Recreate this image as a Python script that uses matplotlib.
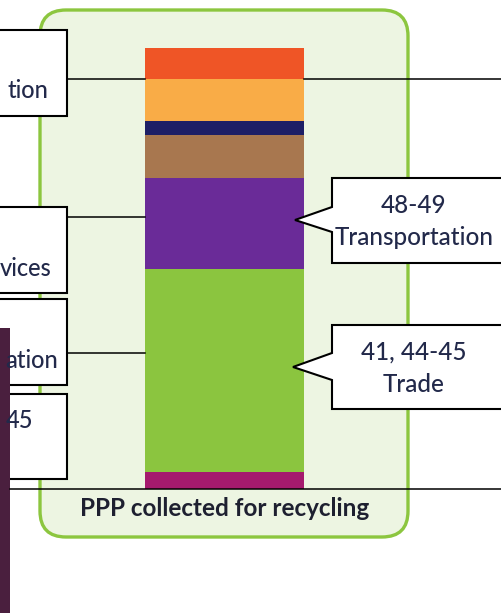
import matplotlib
matplotlib.use("Agg")
import matplotlib.pyplot as plt
from matplotlib.patches import FancyBboxPatch, Polygon, Rectangle
import numpy as np

# ---- data (share of PPP collected for recycling, top to bottom) ----
segments = ["seg1", "seg2", "seg3", "seg4", "48-49 Transportation", "41, 44-45 Trade", "seg7"]
shares = [7.0, 9.5, 3.2, 9.8, 20.6, 46.0, 3.9]
colors = ["#EF5526", "#F9AC47", "#1E1F66", "#A8774F", "#6A2B98", "#8BC53F", "#A51A6E"]
title = "PPP collected for recycling"
right_labels = ["48-49\nTransportation", "41, 44-45\nTrade"]
left_labels = ["tion", "vices", "ation", "45"]

W, H = 501, 613
fig = plt.figure(figsize=(W / 100, H / 100), dpi=100)
fig.patch.set_facecolor("white")

FONT = ["Lato", "DejaVu Sans"]
TXT = "#22294A"

# background axes in pixel coordinates
bg = fig.add_axes([0, 0, 1, 1], zorder=0)
bg.set_xlim(0, W); bg.set_ylim(H, 0); bg.axis("off")
box = FancyBboxPatch((40, 10), 368, 527, boxstyle="round,pad=0,rounding_size=26",
                     facecolor="#EDF5E2", edgecolor="#8CC63F", linewidth=2.4)
bg.add_patch(box)

# stacked bar
bx0, bx1, by0, by1 = 145, 304, 48, 489
bar_ax = fig.add_axes([bx0 / W, 1 - by1 / H, (bx1 - bx0) / W, (by1 - by0) / H], zorder=1)
cum = np.concatenate([[0], np.cumsum(shares)[:-1]])
bar_ax.bar([0], shares, bottom=cum, width=1.0, color=colors, linewidth=0)
bar_ax.set_xlim(-0.5, 0.5)
bar_ax.set_ylim(sum(shares), 0)
bar_ax.axis("off")

# overlay axes for callouts
ov = fig.add_axes([0, 0, 1, 1], zorder=2)
ov.set_xlim(0, W); ov.set_ylim(H, 0); ov.axis("off")
ov.patch.set_alpha(0)

lw_box = 1.5
lw_line = 1.1

# left boxes (cut off at the figure edge)
left_boxes = [(30, 116), (207, 293), (299, 385), (394, 479)]
for (t, b) in left_boxes:
    ov.add_patch(Rectangle((-20, t), 87, b - t, facecolor="white", edgecolor="black", linewidth=lw_box))

# dark strip on the left
ov.add_patch(Rectangle((0, 328), 10, 300, facecolor="#4A1F3E", edgecolor="none"))

# connector lines
ov.plot([67, bx0], [79, 79], color="black", lw=lw_line)
ov.plot([bx1, W + 5], [79, 79], color="black", lw=lw_line)
ov.plot([67, bx0], [217, 217], color="black", lw=lw_line)
ov.plot([67, bx0], [353, 353], color="black", lw=lw_line)
ov.plot([10, W + 5], [489, 489], color="black", lw=lw_line)

# left texts
left_pos = [(48, 90), (52, 268), (58, 361), (33, 421)]
for s, (x, y) in zip(left_labels, left_pos):
    ov.text(x, y, s, ha="right", va="center", fontsize=17, color=TXT, family=FONT,
            fontweight="medium")

# right callouts with pointer
right_boxes = [(178, 263, 207, 232, (295, 220)), (325, 409, 353, 380, (293, 367))]
for lab, (t, b, p0, p1, tip) in zip(right_labels, right_boxes):
    verts = [(W + 10, t), (332, t), (332, p0), tip, (332, p1), (332, b), (W + 10, b)]
    ov.add_patch(Polygon(verts, closed=False, facecolor="white", edgecolor="black", linewidth=lw_box))
    ov.text(414, (t + b) / 2 + 1, lab, ha="center", va="center", fontsize=17.5, color=TXT,
            family=FONT, linespacing=1.5, fontweight="medium")

# title
ov.text(225, 508, title, ha="center", va="center", fontsize=17.5, fontweight="bold",
        color="#1E2030", family=FONT)

fig.savefig("out.png", dpi=100)
